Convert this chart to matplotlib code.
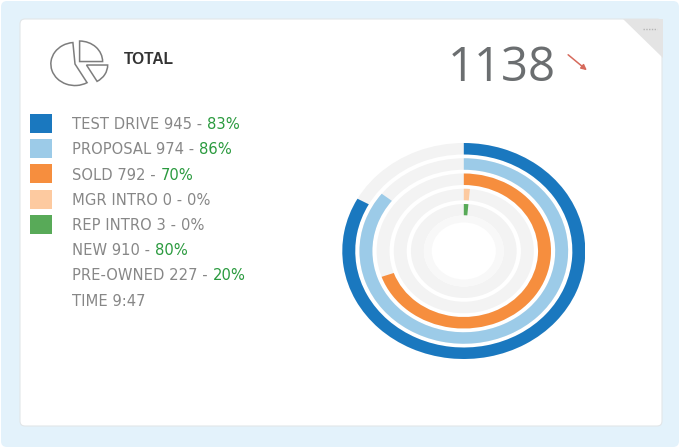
import matplotlib
matplotlib.use("Agg")
import matplotlib.pyplot as plt
from matplotlib.patches import Wedge, Rectangle, FancyBboxPatch, Polygon

# ---- data ----
labels = ["TEST DRIVE", "PROPOSAL", "SOLD", "MGR INTRO", "REP INTRO"]
values = [945, 974, 792, 0, 3]
colors = ["#1a78bf", "#9ccbe8", "#f68e3e", "#fdcaa0", "#58aa58"]
extra_labels = ["NEW", "PRE-OWNED"]
extra_values = [910, 227]
total = 1138
time_label = "TIME"
time_value = "9:47"
title = "TOTAL"

GRAY = "#878787"
GREEN = "#2a9a3e"

fig = plt.figure(figsize=(6.8, 4.48), dpi=100)
fig.patch.set_facecolor("white")
ax = fig.add_axes([0, 0, 1, 1])
ax.set_xlim(0, 680)
ax.set_ylim(448, 0)
ax.axis("off")

# background + card
ax.add_patch(FancyBboxPatch((1, 1), 678, 446, boxstyle="round,pad=0,rounding_size=6",
                            facecolor="#e3f2fb", edgecolor="none"))
ax.add_patch(FancyBboxPatch((20, 19), 642, 407, boxstyle="round,pad=0,rounding_size=5",
                            facecolor="white", edgecolor="#e2e6e8", lw=0.8))
ax.add_patch(Polygon([(623, 19), (662.5, 19), (662.5, 58)], closed=True,
                     facecolor="#e4e4e4", edgecolor="none"))
ax.plot([643, 657], [29, 29], color="#b5b5b5", lw=1, ls=(0, (1, 1)))

# title
ax.text(124, 64, title, fontsize=11.2, fontweight="bold", color="#333333",
        family="Liberation Sans", va="baseline", ha="left")

# big total number
ax.text(502, 81, str(total), fontsize=34, color="#6b6e70", family="Open Sans",
        ha="center", va="baseline")
ax.annotate("", xy=(589, 72), xytext=(566, 53),
            arrowprops=dict(arrowstyle="-|>", color="#d66a5c", lw=1.1, mutation_scale=8))

# icon
iax = fig.add_axes([45 / 680, 1 - 92 / 448, 70 / 680, 56 / 448])
sx, sy = 23.0, 20.5
iax.set_xlim((45 - 75) / sx, (115 - 75) / sx)
iax.set_ylim((64 - 92) / sy, (64 - 36) / sy)
iax.axis("off")
ic = "#7d7d7d"
iax.add_patch(Wedge((0, 0), 1.05, 95, 300, fill=False, edgecolor=ic, lw=1.1))
iax.add_patch(Wedge((0.2, 0.12), 1.0, 0, 90, fill=False, edgecolor=ic, lw=1.1))
iax.add_patch(Wedge((0.5, -0.05), 0.92, -60, 0, fill=False, edgecolor=ic, lw=1.1))

# legend rows
row0, step = 123.5, 25.25
rows = []
for lab, v, c in zip(labels, values, colors):
    rows.append((f"{lab} {v} -", round(v / total * 100), c))
for lab, v in zip(extra_labels, extra_values):
    rows.append((f"{lab} {v} -", round(v / total * 100), None))

fs = 10.6
for i, (txt, pct, c) in enumerate(rows):
    yc = row0 + i * step
    if c is not None:
        ax.add_patch(Rectangle((30, yc - 9.5), 22, 19, facecolor=c, edgecolor="none"))
    t = ax.text(72, yc + 5.5, txt, fontsize=fs, color=GRAY, family="DejaVu Sans",
                ha="left", va="baseline")
    ax.annotate(f"{pct}%", xy=(1, 0), xycoords=t, xytext=(4.8, 0),
                textcoords="offset pixels", fontsize=fs,
                color=GREEN if pct > 0 else GRAY, family="DejaVu Sans",
                ha="left", va="bottom")
yc = row0 + len(rows) * step
ax.text(72, yc + 5.5, f"{time_label} {time_value}", fontsize=fs, color=GRAY,
        family="DejaVu Sans", ha="left", va="baseline")

# radial rings
cx, cy, rx, ry = 463.8, 251, 121.5, 108
rax = fig.add_axes([(cx - rx) / 680, 1 - (cy + ry) / 448, 2 * rx / 680, 2 * ry / 448])
rax.set_xlim(-1, 1)
rax.set_ylim(-1, 1)
rax.axis("off")
ring_step = 15.25 / ry
ring_w = 11.5 / ry
min_sweep = 5.0
for i, (v, c) in enumerate(zip(values, colors)):
    r = 1 - i * ring_step
    rax.add_patch(Wedge((0, 0), r, 0, 360, width=ring_w, facecolor="#f3f3f3", edgecolor="none"))
    sweep = max(v / total * 360, min_sweep)
    rax.add_patch(Wedge((0, 0), r, 90 - sweep, 90, width=ring_w, facecolor=c, edgecolor="none"))
# faint inner band
r_in = 1 - (len(values) - 1) * ring_step - ring_w
rax.add_patch(Wedge((0, 0), r_in, 0, 360, width=7 / ry, facecolor="#f8f8f8", edgecolor="none"))

fig.savefig("out.png", dpi=100)
